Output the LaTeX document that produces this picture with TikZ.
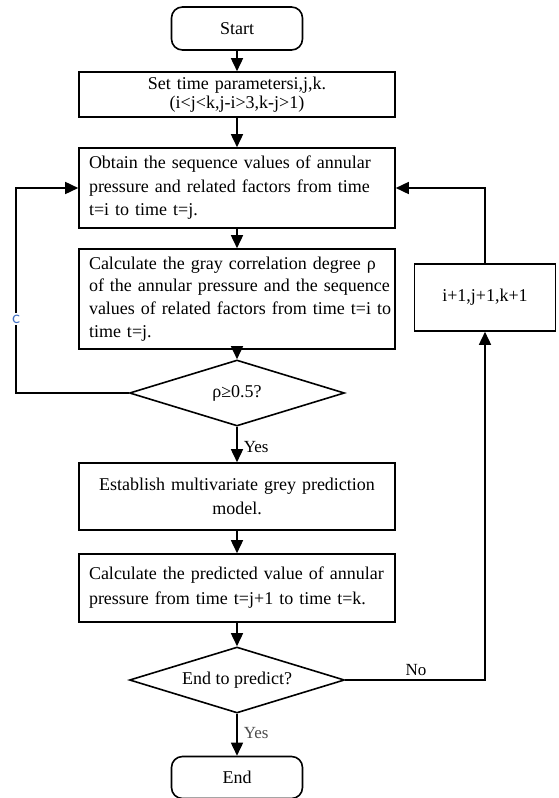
\documentclass[tikz,border=0pt]{standalone}
\usepackage{fontspec}
\setmainfont{Liberation Serif}
\usetikzlibrary{shapes.geometric,arrows.meta}
\definecolor{cblue}{RGB}{68,114,196}
\begin{document}
\begin{tikzpicture}[x=1pt,y=-1pt,line width=1.6pt,
  base/.style={draw,inner sep=0pt,font=\fontsize{18}{23.5}\selectfont},
  box/.style={base,rectangle,minimum width=316pt,text width=296pt},
  term/.style={base,rectangle,rounded corners=11pt,minimum width=131pt,minimum height=43pt},
  dec/.style={base,diamond,aspect=3.26,minimum width=215pt,minimum height=66pt},
  arr/.style={-{Triangle[length=13pt,width=12pt]}},
  lab/.style={inner sep=0pt,font=\fontsize{17}{20}\selectfont}]
\useasboundingbox (0,0) rectangle (559,798);
\node[term] (start) at (237,28.5) {Start};
\node[box,minimum height=45pt,align=center,font=\fontsize{18}{19}\selectfont] (set) at (237,94.5)
  {Set time parametersi,j,k.\\(i<j<k,j-i>3,k-j>1)};
\node[box,minimum height=80pt,align=left] (obt) at (237,188)
  {\mbox{Obtain the sequence values of annular}\\\mbox{pressure and related factors from time}\\\mbox{t=i to time t=j.}};
\node[box,minimum height=100pt,align=left,font=\fontsize{18}{22.7}\selectfont] (gray) at (237,299)
  {\mbox{Calculate the gray correlation degree ρ}\\\mbox{of the annular pressure and the sequence}\\\mbox{values of related factors from time t=i to}\\\mbox{time t=j.}};
\node[dec] (d1) at (237,393) {ρ≥0.5?};
\node[base,rectangle,minimum width=141pt,minimum height=67pt] (inc) at (485,297.5) {i+1,j+1,k+1};
\node[box,minimum height=67pt,align=center] (est) at (237,496.5)
  {Establish multivariate grey prediction\\model.};
\node[box,minimum height=68pt,align=left,font=\fontsize{18}{25}\selectfont] (pred) at (237,588)
  {\mbox{Calculate the predicted value of annular}\\\mbox{pressure from time t=j+1 to time t=k.}};
\node[dec] (d2) at (237,680) {End to predict?};
\node[term,minimum height=42pt] (end) at (237,777.5) {End};
\coordinate (lx) at (16,0);
\draw[arr] (start) -- (set);
\draw[arr] (set) -- (obt);
\draw[arr] (obt) -- (gray);
\draw[arr] (gray) -- (d1);
\draw[arr] (d1) -- (est);
\draw[arr] (est) -- (pred);
\draw[arr] (pred) -- (d2);
\draw[arr] (d2) -- (end);
\draw[arr] (d1.west) -- (d1.west -| lx) -- (lx |- obt.west) -- (obt.west);
\draw[arr] (d2.east) -- (d2.east -| inc.south) -- (inc.south);
\draw[arr] (inc.north) |- (obt.east);
\node[fill=white,inner sep=1.5pt,text=cblue,font=\sffamily\fontsize{19}{19}\selectfont] (c) at (16,319) {c};
\node[lab,anchor=west] (yes1) at (243,447) {Yes};
\node[lab,anchor=west,text=black!70] (yes2) at (243,733) {Yes};
\node[lab] (no) at (416,670) {No};
\end{tikzpicture}
\end{document}
